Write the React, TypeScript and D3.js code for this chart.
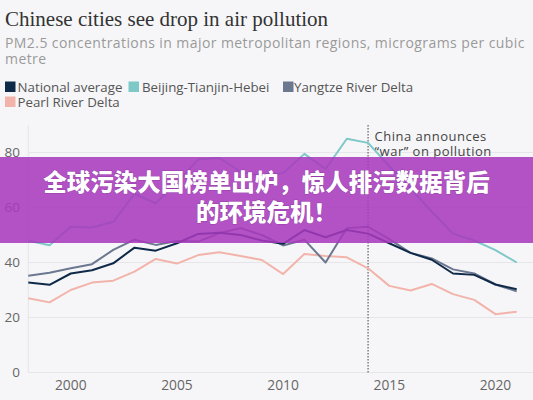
import React from "react";
import * as d3 from "d3";

const years = d3.range(1998, 2022);
const nationalAverage = [32.7, 31.9, 36, 37.2, 39.7, 45.4, 44.3, 47, 50.4, 50.8, 50, 48, 46.8, 51.8, 49.2, 51.8, 50.5, 47, 43.5, 41, 36, 35.5, 32, 30.3];
const beijingTianjinHebei = [47.9, 46.3, 53, 52.7, 54.8, 65, 61.5, 69, 77.5, 78, 73, 71.5, 72.5, 79.5, 74, 85, 83.5, 75, 67, 58.5, 50.5, 48, 44.5, 40];
const yangtzeRiverDelta = [35.2, 36.3, 37.9, 39.4, 44.6, 48.3, 46.4, 47.8, 47.6, 50.7, 52.5, 50, 46.2, 48.3, 40, 52.5, 53, 48.5, 43.5, 41.5, 37.5, 36, 32, 29.5];
const pearlRiverDelta = [27, 25.5, 30, 32.7, 33.4, 36.7, 41.3, 39.6, 42.7, 43.7, 42.4, 40.9, 35.8, 43.1, 42.4, 41.9, 37.9, 31.5, 29.8, 32.2, 28.5, 26.4, 21.2, 22.1];

const seriesNames = ["National average", "Beijing-Tianjin-Hebei", "Yangtze River Delta", "Pearl River Delta"];
const seriesColors = ["#0f2a48", "#7ec8c8", "#6c7790", "#f2b4aa"];
const seriesValues = [nationalAverage, beijingTianjinHebei, yangtzeRiverDelta, pearlRiverDelta];
const drawOrder = [3, 2, 1, 0];

const yTicks = [0, 20, 40, 60, 80];
const xTicks = [2000, 2005, 2010, 2015, 2020];
const eventYear = 2014;

const titleText = "Chinese cities see drop in air pollution";
const subtitleLines = ["PM2.5 concentrations in major metropolitan regions, micrograms per cubic", "metre"];
const annotationLines = ["China announces", "\u201cwar\u201d on pollution"];
const bannerLines = ["全球污染大国榜单出炉，惊人排污数据背后", "的环境危机！"];

const W = 533;
const H = 400;

export default function App() {
  React.useEffect(() => {
    document.body.style.margin = "0";
  }, []);

  const x = d3.scaleLinear().domain([1998, 2021]).range([28.3, 516.7]);
  const y = d3.scaleLinear().domain([0, 90]).range([372.5, 125]);
  const line = d3
    .line<number>()
    .x((_, i) => x(years[i]))
    .y((d) => y(d));

  const legendItems = [
    { i: 0, sx: 5, tx: 17.5, y: 81.5 },
    { i: 1, sx: 128.5, tx: 142, y: 81.5 },
    { i: 2, sx: 283, tx: 294, y: 81.5 },
    { i: 3, sx: 5, tx: 17.5, y: 96.5 },
  ];

  const sans = "'Open Sans', 'Noto Sans', sans-serif";

  return (
    <svg width={W} height={H} style={{ position: "absolute", left: 0, top: 0, display: "block" }}>
      <rect x={0} y={0} width={W} height={H} fill="#f6f6f8" />
      <text x={5} y={26} fontFamily="'Liberation Serif', 'DejaVu Serif', serif" fontSize={21} fill="#333">
        {titleText}
      </text>
      {subtitleLines.map((t, k) => (
        <text key={k} x={5} y={47.5 + k * 16} fontFamily={sans} fontSize={14} letterSpacing={0.42} fill="#9a9a9a">
          {t}
        </text>
      ))}
      {legendItems.map((it) => (
        <g key={it.i}>
          <rect x={it.sx} y={it.y} width={10.5} height={10.5} fill={seriesColors[it.i]} />
          <text x={it.tx} y={it.y + 10} fontFamily={sans} fontSize={13.3} fill="#555">
            {seriesNames[it.i]}
          </text>
        </g>
      ))}

      {yTicks.map((t) => (
        <g key={t}>
          <line x1={28.3} x2={533} y1={y(t)} y2={y(t)} stroke="#e6e6ea" strokeWidth={1} />
          <text x={20} y={y(t)} dy="0.35em" textAnchor="end" fontFamily={sans} fontSize={13.5} fill="#666">
            {t}
          </text>
        </g>
      ))}
      <line x1={28.3} x2={28.3} y1={y(90)} y2={y(0)} stroke="#e6e6ea" strokeWidth={1} />
      {xTicks.map((t) => (
        <text key={t} x={x(t)} y={390} textAnchor="middle" fontFamily={sans} fontSize={13.8} fill="#666">
          {t}
        </text>
      ))}

      <line x1={x(eventYear)} x2={x(eventYear)} y1={y(90)} y2={y(0)} stroke="#444" strokeWidth={1} strokeDasharray="1.5,1.5" />
      {annotationLines.map((t, k) => (
        <text key={k} x={x(eventYear) + 6.5} y={141 + k * 15} fontFamily={sans} fontSize={13} letterSpacing={0.5} fill="#444">
          {t}
        </text>
      ))}

      {drawOrder.map((i) => (
        <path key={i} d={line(seriesValues[i]) || ""} fill="none" stroke={seriesColors[i]} strokeWidth={2} strokeLinejoin="round" />
      ))}

      <rect x={0} y={157} width={W} height={86} fill="rgb(168,58,190)" fillOpacity={0.87} />
      {bannerLines.map((t, k) => (
        <text
          key={k}
          x={W / 2}
          y={183 + k * 30}
          dy="0.36em"
          textAnchor="middle"
          fontFamily="'Noto Sans CJK SC', sans-serif"
          fontWeight={900}
          fontSize={23.5}
          fill="#fff"
          style={{ paintOrder: "stroke" }}
          stroke="rgba(60,0,80,0.25)"
          strokeWidth={1}
        >
          {t}
        </text>
      ))}
    </svg>
  );
}
